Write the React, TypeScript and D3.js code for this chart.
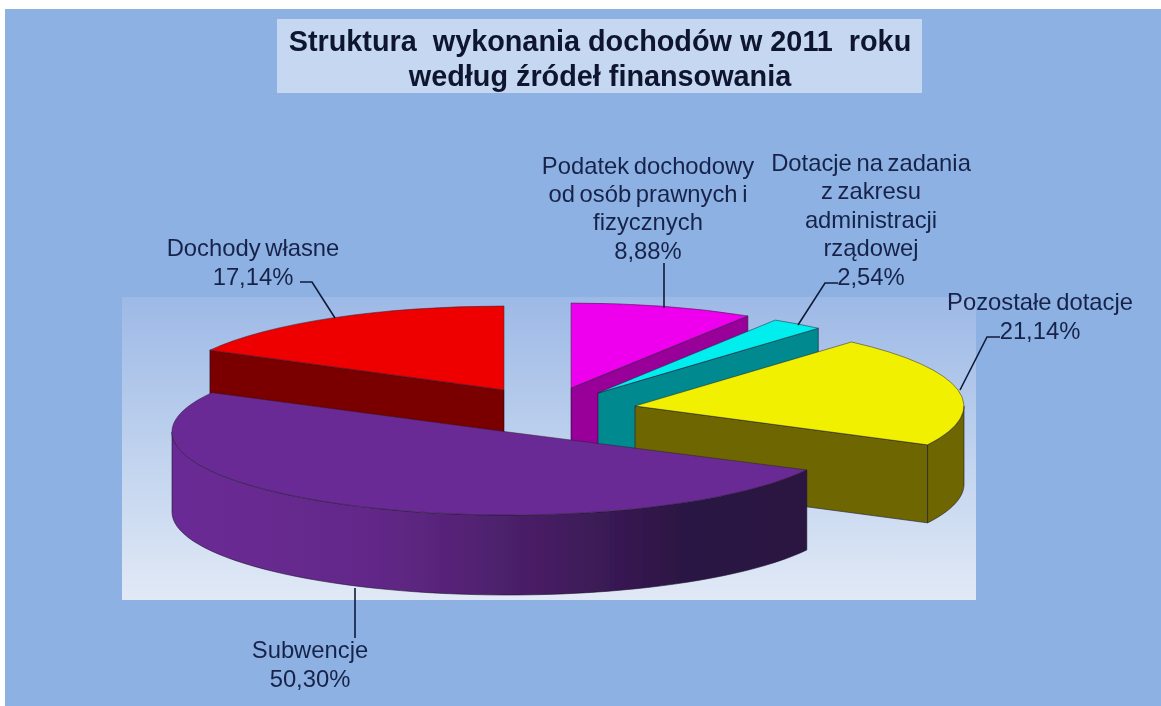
import React from "react";
import * as d3 from "d3";

// ---------- data ----------
const categories = ["Podatek dochodowy od osób prawnych i fizycznych", "Dotacje na zadania z zakresu administracji rządowej", "Pozostałe dotacje", "Subwencje", "Dochody własne"];
const shares = [8.88, 2.54, 21.14, 50.3, 17.14];
const percentLabels = ["8,88%", "2,54%", "21,14%", "50,30%", "17,14%"];
const labelNameLines = [
  ["Podatek dochodowy", "od osób prawnych i", "fizycznych"],
  ["Dotacje na zadania", "z zakresu", "administracji", "rządowej"],
  ["Pozostałe dotacje"],
  ["Subwencje"],
  ["Dochody własne"],
];
const titleLines = ["Struktura  wykonania dochodów w 2011  roku", "według źródeł finansowania"];

// ---------- layout / style ----------
const W = 1161, H = 706;
const SANS = "'Liberation Sans', Arial, sans-serif";
const topColors = ["#ee00ee", "#00eeee", "#f0f000", "#6b2a96", "#ee0000"];
const sideColors = ["#990099", "#008a8f", "#6e6600", "url(#purpleSide)", "#7a0000"];
// apex of every exploded slice on the projected ellipse, and its ellipse radii / depth
const geometry = [
  { cx: 571, cy: 388, rx: 334, ry: 85, h: 80 },
  { cx: 598, cy: 393, rx: 335, ry: 86, h: 80 },
  { cx: 635, cy: 406, rx: 329, ry: 85, h: 78 },
  { cx: 508, cy: 432, rx: 336, ry: 83, h: 80 },
  { cx: 504, cy: 390, rx: 334, ry: 84, h: 80 },
];
const drawOrder = [4, 0, 1, 2, 3];
const labelAnchors = [
  { x: 648, y: [174, 202, 230, 259] },
  { x: 871, y: [171, 199, 228, 256, 285] },
  { x: 1040, y: [310, 339] },
  { x: 310, y: [658, 687] },
  { x: 253, y: [256, 285] },
];
const leaders: [number, number][][] = [
  [[664, 263], [664, 308]],
  [[838, 283], [825, 283], [798, 325]],
  [[1000, 337], [987, 337], [960, 390]],
  [[355, 588], [355, 638]],
  [[300, 282], [312, 282], [335, 318]],
];

const arcs = d3.pie<number>().sort(null).startAngle(0).endAngle(2 * Math.PI)(shares);
const unitArc = d3.arc<d3.PieArcDatum<number>>().innerRadius(0).outerRadius(1);
const lineGen = d3.line<[number, number]>();

type G = (typeof geometry)[number];
const pt = (g: G, a: number, dy = 0): [number, number] => [g.cx + g.rx * Math.sin(a), g.cy - g.ry * Math.cos(a) + dy];
const arcPts = (g: G, a0: number, a1: number, dy = 0) =>
  d3.range(0, 61).map((i) => pt(g, a0 + ((a1 - a0) * i) / 60, dy));

// polygons of the visible side walls of one slice
function sideWalls(g: G, a0: number, a1: number): string[] {
  const out: string[] = [];
  const apex: [number, number] = [g.cx, g.cy];
  const apexDown: [number, number] = [g.cx, g.cy + g.h];
  const chord = (a: number) => {
    const p = pt(g, a);
    const q = pt(g, a, g.h);
    out.push(lineGen([apex, p, q, apexDown])! + "Z");
  };
  const lo = Math.max(a0, Math.PI / 2);
  const hi = Math.min(a1, 1.5 * Math.PI);
  if (a1 <= Math.PI) chord(a1); // trailing wall faces the viewer
  if (a0 >= Math.PI) chord(a0); // leading wall faces the viewer
  if (hi > lo) {
    const topPts = arcPts(g, lo, hi);
    const botPts = arcPts(g, lo, hi, g.h).reverse();
    out.push(lineGen([...topPts, ...botPts])! + "Z");
  }
  return out;
}

export default function App() {
  return (
    <svg
      width={W}
      height={H}
      viewBox={`0 0 ${W} ${H}`}
      style={{ position: "absolute", left: 0, top: 0, display: "block" }}
    >
      <defs>
        <linearGradient id="plotBg" x1="0" y1="0" x2="0" y2="1">
          <stop offset="0" stopColor="#9db9e6" />
          <stop offset="0.5" stopColor="#bfd2ee" />
          <stop offset="1" stopColor="#e1e9f6" />
        </linearGradient>
        <linearGradient id="purpleSide" gradientUnits="userSpaceOnUse" x1="173" y1="0" x2="807" y2="0">
          <stop offset="0" stopColor="#6b2a96" />
          <stop offset="0.32" stopColor="#622888" />
          <stop offset="0.55" stopColor="#4a1f68" />
          <stop offset="0.8" stopColor="#2c1544" />
          <stop offset="1" stopColor="#2a1440" />
        </linearGradient>
        <filter id="soft" x="-2%" y="-2%" width="104%" height="104%">
          <feGaussianBlur stdDeviation="0.5" />
        </filter>
      </defs>
      <rect x={0} y={0} width={W} height={H} fill="#ffffff" />
      <rect x={5} y={9} width={W - 5} height={H - 9} fill="#8db1e2" />
      <g filter="url(#soft)">
        <rect x={277} y={19} width={645} height={74} fill="#c6d8f1" />
        {titleLines.map((t, i) => (
          <text
            key={t}
            x={600}
            y={[51, 86][i]}
            textAnchor="middle"
            fontFamily={SANS}
            fontWeight="bold"
            fontSize={28.8}
            fill="#10152e"
            style={{ whiteSpace: "pre" }}
          >
            {t}
          </text>
        ))}
        <rect x={122} y={297} width={854} height={303} fill="url(#plotBg)" />
        {drawOrder.map((i) => {
          const g = geometry[i];
          const d = arcs[i];
          return (
            <g key={categories[i]}>
              {sideWalls(g, d.startAngle, d.endAngle).map((p, k) => (
                <path key={k} d={p} fill={sideColors[i]} stroke="#1c1430" strokeWidth={0.6} strokeLinejoin="round" />
              ))}
              <path
                d={unitArc(d)!}
                transform={`translate(${g.cx},${g.cy}) scale(${g.rx},${g.ry})`}
                fill={topColors[i]}
                stroke="#2a1c30"
                strokeWidth={0.5}
                vectorEffect="non-scaling-stroke"
              />
            </g>
          );
        })}
        {leaders.map((l, i) => (
          <path key={i} d={lineGen(l)!} fill="none" stroke="#0f1c38" strokeWidth={1.6} />
        ))}
        {labelAnchors.map((b, i) =>
          [...labelNameLines[i], percentLabels[i]].map((t, k) => (
            <text
              key={i + "-" + k}
              x={b.x}
              y={b.y[k]}
              textAnchor="middle"
              fontFamily={SANS}
              fontSize={23.8}
              wordSpacing={-2}
              fill="#18244a"
            >
              {t}
            </text>
          ))
        )}
      </g>
    </svg>
  );
}
